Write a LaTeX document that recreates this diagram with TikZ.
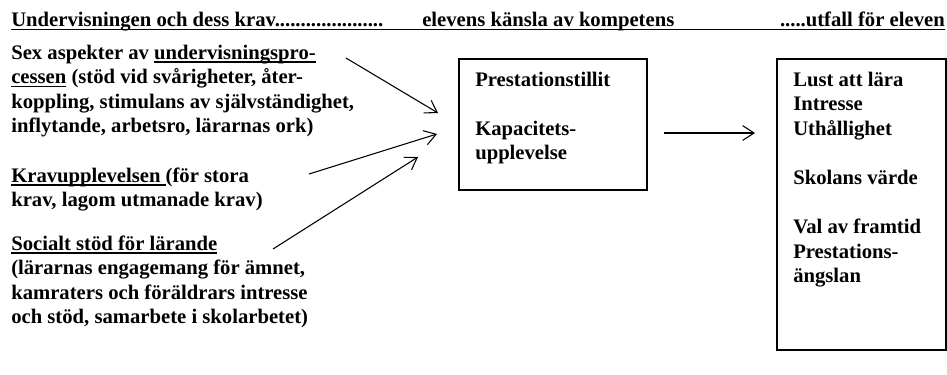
\documentclass[tikz,border=0pt]{standalone}
\usepackage{fontspec}
\setmainfont{Liberation Serif}
\usetikzlibrary{arrows.meta}
\newcommand\myul[1]{\setbox0\hbox{#1}\rlap{\rule[-2.6pt]{\wd0}{1pt}}\box0\relax}
\newcommand\fstrut{\rule{0pt}{12pt}}
\begin{document}
\begin{tikzpicture}[x=0.75pt,y=-0.75pt,
  txt/.style={inner sep=0pt, anchor=north west, align=left, font=\bfseries\fontsize{15.5pt}{18.4pt}\selectfont},
  hdr/.style={inner sep=0pt, font=\bfseries\fontsize{15.5pt}{18.4pt}\selectfont},
  boxnode/.style={draw, line width=0.9pt, inner sep=0pt},
  arr/.style={line width=0.8pt, -{Straight Barb[length=8.5pt,width=11pt]}}]
\useasboundingbox (0,0) rectangle (947,375);

% header
\node[hdr, anchor=base west] (h1) at (11,26) {Undervisningen och dess krav.....................};
\node[hdr, anchor=base west] (h2) at (422,26) {elevens känsla av kompetens};
\node[hdr, anchor=base east] (h3) at (945,26) {.....utfall för eleven};
\coordinate (hl) at (11,29.5);
\coordinate (hr) at (945,29.5);
\draw[line width=1.3pt] (hl) -- (hr);

% left texts
\node[txt] (ta) at (11,43) {\fstrut Sex aspekter av \myul{undervisningspro-}\\
\myul{cessen} (stöd vid svårigheter, åter-\\
koppling, stimulans av självständighet,\\
inflytande, arbetsro, lärarnas ork)};
\node[txt] (tb) at (11,166) {\fstrut\myul{Kravupplevelsen\ }(för stora\\
krav, lagom utmanade krav)};
\node[txt] (tc) at (11,234) {\fstrut\myul{Socialt stöd för lärande}\\
(lärarnas engagemang för ämnet,\\
kamraters och föräldrars intresse\\
och stöd, samarbete i skolarbetet)};

% boxes
\node[boxnode, minimum width=141pt, minimum height=98.25pt] (box1) at (553,124.5) {};
\node[boxnode, minimum width=126.75pt, minimum height=218.25pt] (box2) at (861.5,204.5) {};
\node[txt] (t1) at (475,70) {\fstrut Prestationstillit\\[18.4pt]
Kapacitets-\\
upplevelse};
\node[txt] (t2) at (793,70) {\fstrut Lust att lära\\
Intresse\\
Uthållighet\\[18.4pt]
Skolans värde\\[18.4pt]
Val av framtid\\
Prestations-\\
ängslan};

% arrows
\coordinate (a1s) at (346,58);  \coordinate (a1e) at (438,113);
\coordinate (a2s) at (309,174); \coordinate (a2e) at (437,134);
\coordinate (a3s) at (273,249); \coordinate (a3e) at (418,157);
\coordinate (m1s) at (664,133); \coordinate (m1e) at (755,133);
\draw[arr] (a1s) -- (a1e);
\draw[arr] (a2s) -- (a2e);
\draw[arr] (a3s) -- (a3e);
\draw[arr] (m1s) -- (m1e);
\end{tikzpicture}
\end{document}
